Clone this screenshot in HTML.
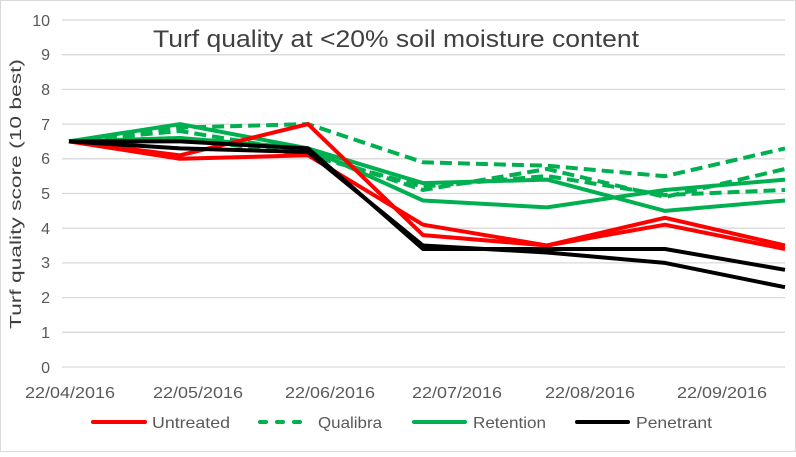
<!DOCTYPE html><html><head><style>body{margin:0;background:#fff}</style></head><body>
<svg width="796" height="452" xmlns="http://www.w3.org/2000/svg" font-family="Liberation Sans, sans-serif">
<rect x="0.5" y="0.5" width="795" height="451" fill="#fff" stroke="#d9d9d9"/>
<g stroke="#d9d9d9" stroke-width="1.3">
<line x1="62" x2="785" y1="20" y2="20"/><line x1="62" x2="785" y1="54.7" y2="54.7"/><line x1="62" x2="785" y1="89.4" y2="89.4"/><line x1="62" x2="785" y1="124.1" y2="124.1"/><line x1="62" x2="785" y1="158.8" y2="158.8"/><line x1="62" x2="785" y1="193.5" y2="193.5"/><line x1="62" x2="785" y1="228.2" y2="228.2"/><line x1="62" x2="785" y1="262.9" y2="262.9"/><line x1="62" x2="785" y1="297.6" y2="297.6"/><line x1="62" x2="785" y1="332.3" y2="332.3"/><line x1="62" x2="785" y1="367" y2="367"/>
</g>
<g fill="#595959" font-size="16" text-anchor="end">
<text x="50" y="26">10</text><text x="50" y="60">9</text><text x="50" y="95">8</text><text x="50" y="130">7</text><text x="50" y="164">6</text><text x="50" y="199">5</text><text x="50" y="234">4</text><text x="50" y="268">3</text><text x="50" y="303">2</text><text x="50" y="338">1</text><text x="50" y="373">0</text>
</g>
<g fill="#595959" font-size="16" text-anchor="middle" lengthAdjust="spacingAndGlyphs">
<text x="70" y="398" textLength="90" lengthAdjust="spacingAndGlyphs">22/04/2016</text><text x="198" y="398" textLength="90" lengthAdjust="spacingAndGlyphs">22/05/2016</text><text x="330" y="398" textLength="90" lengthAdjust="spacingAndGlyphs">22/06/2016</text><text x="457" y="398" textLength="90" lengthAdjust="spacingAndGlyphs">22/07/2016</text><text x="590" y="398" textLength="90" lengthAdjust="spacingAndGlyphs">22/08/2016</text><text x="722" y="398" textLength="90" lengthAdjust="spacingAndGlyphs">22/09/2016</text>
</g>
<text x="21" y="194" fill="#404040" font-size="16" text-anchor="middle" textLength="270" lengthAdjust="spacingAndGlyphs" transform="rotate(-90 21 194)">Turf quality score (10 best)</text>
<text x="396" y="47" fill="#404040" font-size="24" text-anchor="middle" textLength="486" lengthAdjust="spacingAndGlyphs">Turf quality at &lt;20% soil moisture content</text>
<g fill="none" stroke-width="4" stroke-linejoin="round">
<polyline stroke="#00b050" points="69,141.4 180,124.1 308,148.4 423,183.1 547,179.6 665,210.9 785,200.5"/>
<polyline stroke="#00b050" points="69,141.4 180,138 308,148.4 423,200.5 547,207.4 665,190 785,179.6"/>
<polyline stroke="#00b050" stroke-dasharray="12,6" points="69,141.4 180,127.6 308,124.1 423,162.3 547,165.7 665,176.2 785,148.4"/>
<polyline stroke="#00b050" stroke-dasharray="12,6" points="69,141.4 180,131 308,152 423,190 547,169 665,197 785,169"/>
<polyline stroke="#00b050" stroke-dasharray="12,6" points="69,141.4 180,138 308,155 423,186.6 547,176 665,195 785,190"/>
<polyline stroke="#ff0000" points="69,141.4 180,158.8 308,155.3 423,224.7 547,245.5 665,217.8 785,245.5"/>
<polyline stroke="#ff0000" points="69,141.4 180,155.3 308,124.1 423,235.1 547,245.5 665,224.7 785,249"/>
<polyline stroke="#000" points="69,141.4 180,141.4 308,148.4 423,249 547,249 665,249 785,269.8"/>
<polyline stroke="#000" points="69,141.4 180,148.4 308,152 423,245.5 547,252.5 665,262.9 785,287.2"/>
</g>
<g font-size="16" fill="#595959" stroke-width="4" stroke-linecap="round">
<line x1="93" x2="145" y1="422" y2="422" stroke="#ff0000"/><text x="152" y="428" textLength="78" lengthAdjust="spacingAndGlyphs">Untreated</text>
<line x1="260" x2="310" y1="422" y2="422" stroke="#00b050" stroke-dasharray="6,11"/><text x="318" y="428" textLength="64" lengthAdjust="spacingAndGlyphs">Qualibra</text>
<line x1="414" x2="465" y1="422" y2="422" stroke="#00b050"/><text x="473" y="428" textLength="73" lengthAdjust="spacingAndGlyphs">Retention</text>
<line x1="577" x2="628" y1="422" y2="422" stroke="#000"/><text x="636" y="428" textLength="76" lengthAdjust="spacingAndGlyphs">Penetrant</text>
</g>
</svg>
</body></html>
